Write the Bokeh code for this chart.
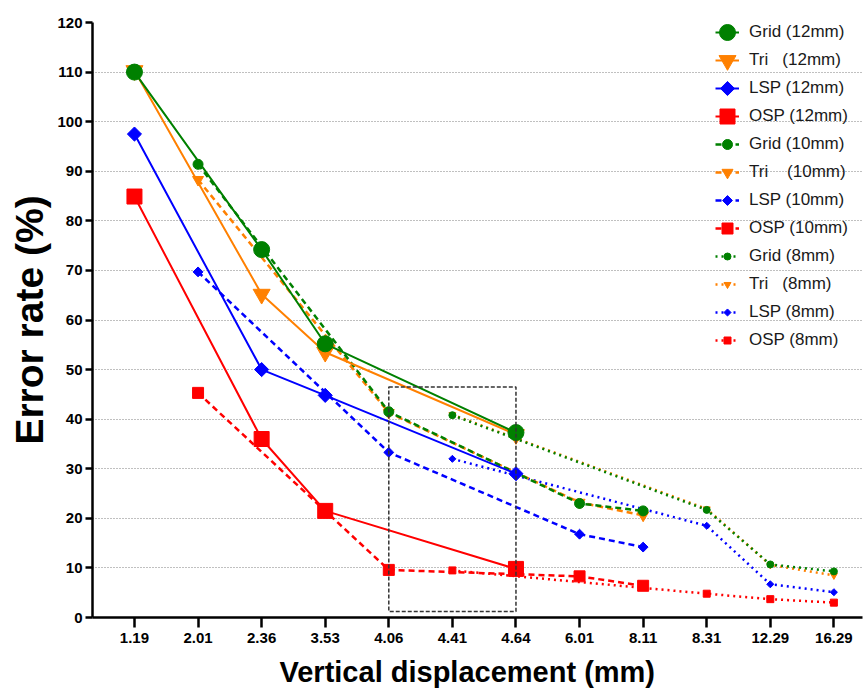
from bokeh.plotting import figure
from bokeh.models import (Range1d, FixedTicker, Legend, LegendItem, BoxAnnotation, Title)
from bokeh.embed import file_html
from bokeh.resources import INLINE

# Category axis: vertical displacement values (mm), evenly spaced
displacements = ["1.19", "2.01", "2.36", "3.53", "4.06", "4.41",
                 "4.64", "6.01", "8.11", "8.31", "12.29", "16.29"]

# 12 mm spacing
x_12mm = ["1.19", "2.36", "3.53", "4.64"]
grid_12mm = [110.0, 74.2, 55.2, 37.3]
tri_12mm = [110.3, 65.2, 53.5, 36.9]
lsp_12mm = [97.5, 50.0, 44.8, 29.0]
osp_12mm = [84.9, 36.0, 21.5, 9.8]

# 10 mm spacing
x_10mm = ["2.01", "4.06", "6.01", "8.11"]
grid_10mm = [91.4, 41.5, 23.0, 21.5]
tri_10mm = [88.3, 41.3, 23.2, 20.6]
lsp_10mm = [69.7, 33.3, 16.8, 14.2]
osp_10mm = [45.3, 9.6, 8.3, 6.4]

# 8 mm spacing
x_8mm = ["4.41", "8.31", "12.29", "16.29"]
grid_8mm = [40.8, 21.7, 10.7, 9.3]
tri_8mm = [40.9, 21.9, 10.6, 8.5]
lsp_8mm = [32.0, 18.5, 6.7, 5.1]
osp_8mm = [9.5, 4.8, 3.7, 3.0]

# highlighted region (displacement span, error-rate span)
box_span = ("4.06", "4.64")
box_rate = (1.2, 46.5)

NB = "\u00a0"
GREEN, ORANGE, BLUE, RED = "#008000", "#FF8000", "#0000FF", "#FF0000"
FONT = "Liberation Sans"

# frame geometry (px) and data ranges
W, H = 864, 695
FRAME_L, FRAME_T, FRAME_R, FRAME_B = 92, 22, 862, 617
X0, X1 = -0.66, 11.45
Y0, Y1 = 0, 120


def pos(labels):
    return [displacements.index(v) for v in labels]


def px_to_x(px):
    return X0 + (px - FRAME_L) / (FRAME_R - FRAME_L) * (X1 - X0)


def px_to_y(py):
    return Y1 - (py - FRAME_T) / (FRAME_B - FRAME_T) * (Y1 - Y0)


p = figure(width=W, height=H,
           x_range=Range1d(X0, X1), y_range=Range1d(Y0, Y1),
           output_backend="svg", toolbar_location=None,
           min_border_left=FRAME_L, min_border_right=W - FRAME_R,
           min_border_top=FRAME_T, min_border_bottom=H - FRAME_B)
p.outline_line_color = None
p.background_fill_color = "white"
p.border_fill_color = "white"

# axes
for ax in (p.xaxis[0], p.yaxis[0]):
    ax.axis_line_width = 2.5
    ax.axis_line_color = "black"
    ax.major_tick_line_width = 2.5
    ax.major_tick_line_color = "black"
    ax.major_tick_in = 0
    ax.minor_tick_line_color = None
    ax.major_label_text_font = FONT
    ax.major_label_text_font_style = "bold"
    ax.major_label_text_font_size = "15px"
    ax.major_label_text_color = "black"

p.xaxis.ticker = FixedTicker(ticks=list(range(len(displacements))))
p.xaxis.major_label_overrides = {i: d for i, d in enumerate(displacements)}
p.xaxis.major_tick_out = 10
p.xaxis.major_label_standoff = 5

p.yaxis.ticker = FixedTicker(ticks=list(range(0, 121, 10)))
p.yaxis.major_tick_out = 7
p.yaxis.major_label_standoff = 3
p.yaxis.axis_label = "Error rate (%)"
p.yaxis.axis_label_text_font = FONT
p.yaxis.axis_label_text_font_style = "bold"
p.yaxis.axis_label_text_font_size = "39px"
p.yaxis.axis_label_text_color = "black"
p.yaxis.axis_label_standoff = 3

# x-axis title, placed a little left of the frame centre
p.add_layout(Title(text="Vertical displacement (mm)", align="left", offset=279 - FRAME_L,
                   text_font=FONT, text_font_style="bold", text_font_size="29px",
                   text_color="black", standoff=16), "below")

p.xgrid.grid_line_color = None
p.ygrid.ticker = FixedTicker(ticks=list(range(10, 111, 10)))
p.ygrid.grid_line_color = "#808080"
p.ygrid.grid_line_width = 1.2
p.ygrid.grid_line_dash = "1 2"

DIAMOND = 0.785398  # square turned 45 degrees
# series: (label, x labels, values, color, marker, size, angle, dash, width)
series = [
    ("Grid (12mm)", x_12mm, grid_12mm, GREEN, "circle", 16, 0, "solid", 2),
    (f"Tri{NB*3}(12mm)", x_12mm, tri_12mm, ORANGE, "inverted_triangle", 17, 0, "solid", 2),
    ("LSP (12mm)", x_12mm, lsp_12mm, BLUE, "square", 10, DIAMOND, "solid", 2),
    ("OSP (12mm)", x_12mm, osp_12mm, RED, "square", 15, 0, "solid", 2),
    ("Grid (10mm)", x_10mm, grid_10mm, GREEN, "circle", 10, 0, "6 4", 2.5),
    (f"Tri{NB*4}(10mm)", x_10mm, tri_10mm, ORANGE, "inverted_triangle", 11, 0, "6 4", 2.5),
    ("LSP (10mm)", x_10mm, lsp_10mm, BLUE, "square", 7, DIAMOND, "6 4", 2.5),
    ("OSP (10mm)", x_10mm, osp_10mm, RED, "square", 11, 0, "6 4", 2.5),
    ("Grid (8mm)", x_8mm, grid_8mm, GREEN, "circle", 7, 0, "2 4", 2.5),
    (f"Tri{NB*3}(8mm)", x_8mm, tri_8mm, ORANGE, "inverted_triangle", 7, 0, "2 4", 2.5),
    ("LSP (8mm)", x_8mm, lsp_8mm, BLUE, "square", 5, DIAMOND, "2 4", 2.5),
    ("OSP (8mm)", x_8mm, osp_8mm, RED, "square", 7, 0, "2 4", 2.5),
]

# draw last series first so the 12 mm traces sit on top
lines = {}
for label, xs, ys, color, marker, size, angle, dash, lw in reversed(series):
    xi = pos(xs)
    lines[label] = p.line(xi, ys, line_color=color, line_width=lw, line_dash=dash)
    p.scatter(xi, ys, marker=marker, size=size, angle=angle,
              fill_color=color, line_color=color)

# legend: line swatches + labels from the Legend, markers at full series size
LEG_X, LEG_TOP, LEG_GLYPH_W, LEG_ROW_H, LEG_PITCH = 715, 22, 24, 20, 28
items = [LegendItem(label=s[0], renderers=[lines[s[0]]]) for s in series]
leg_h = len(series) * LEG_ROW_H + (len(series) - 1) * (LEG_PITCH - LEG_ROW_H)
legend = Legend(items=items,
                location=(LEG_X - FRAME_L, (FRAME_B - LEG_TOP) - leg_h),
                glyph_width=LEG_GLYPH_W, glyph_height=LEG_ROW_H, label_height=LEG_ROW_H,
                spacing=LEG_PITCH - LEG_ROW_H, padding=0, margin=0, label_standoff=10,
                label_text_font=FONT, label_text_font_size="17px",
                label_text_color="#1a1a1a",
                background_fill_alpha=0, border_line_alpha=0)
p.add_layout(legend)

for i, (label, xs, ys, color, marker, size, angle, dash, lw) in enumerate(series):
    p.scatter([px_to_x(LEG_X + LEG_GLYPH_W / 2)],
              [px_to_y(LEG_TOP + LEG_ROW_H / 2 + i * LEG_PITCH)],
              marker=marker, size=size, angle=angle,
              fill_color=color, line_color=color)

i0, i1 = displacements.index(box_span[0]), displacements.index(box_span[1])
p.add_layout(BoxAnnotation(left=i0, right=i1, bottom=box_rate[0], top=box_rate[1],
                           fill_alpha=0, line_color="#333333", line_alpha=1,
                           line_width=1.5, line_dash="4 2"))

open("out.html", "w").write(file_html(p, INLINE))
